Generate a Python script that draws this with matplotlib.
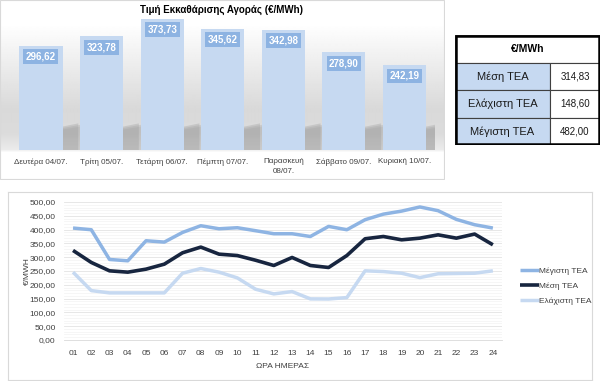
import numpy as np
import matplotlib
matplotlib.use('Agg')
import matplotlib.pyplot as plt
from matplotlib.patches import Rectangle, Polygon
from matplotlib.ticker import MultipleLocator

plt.rcParams['font.family'] = ['Liberation Sans', 'DejaVu Sans']

# --- data -------------------------------------------------------------
days = ['Δευτέρα 04/07.', 'Τρίτη 05/07.', 'Τετάρτη 06/07.', 'Πέμπτη 07/07.',
        'Παρασκευή\n08/07.', 'Σάββατο 09/07.', 'Κυριακή 10/07.']
day_price = [296.62, 323.78, 373.73, 345.62, 342.98, 278.90, 242.19]

table_rows = ['Μέση ΤΕΑ', 'Ελάχιστη ΤΕΑ', 'Μέγιστη ΤΕΑ']
table_vals = ['314,83', '148,60', '482,00']

hours = ['%02d' % h for h in range(1, 25)]
max_tea = [405.6, 399.5, 291.8, 287.0, 359.6, 354.7, 389.8, 414.0, 403.0, 406.8,
           396.0, 385.0, 385.0, 375.0, 411.6, 399.5, 435.8, 456.0, 467.0, 482.0,
           468.5, 437.0, 417.7, 405.6]
mean_tea = [324.5, 281.0, 250.6, 245.8, 256.7, 274.8, 316.0, 336.6, 311.0, 306.0,
            289.0, 270.0, 299.0, 270.0, 262.7, 306.0, 366.8, 375.0, 363.0, 369.0,
            381.0, 369.0, 383.8, 345.0]
min_tea = [245.8, 179.0, 170.7, 170.7, 170.7, 170.7, 242.0, 259.0, 245.8, 225.0,
           184.0, 167.0, 175.5, 149.0, 148.6, 153.7, 250.6, 248.0, 242.0, 226.0,
           240.0, 241.0, 242.0, 250.6]

W, H = 602, 381
fig = plt.figure(figsize=(W / 100, H / 100), dpi=100)
fig.patch.set_facecolor('white')


def box(x0, y0, x1, y1):
    # pixel box (top-left origin) -> figure fraction rect
    return [x0 / W, 1 - y1 / H, (x1 - x0) / W, (y1 - y0) / H]


# --- top bar panel ----------------------------------------------------
bg = fig.add_axes(box(0, 0, 445, 180))
bg.set_axis_off()
yy = np.linspace(0, 180, 181)
shade = np.interp(yy, [0, 25, 110, 135, 150, 153, 180],
                  [1.0, 1.0, 0.85, 0.86, 0.92, 1.0, 1.0])
bg.imshow(np.tile(shade[:, None], (1, 2)), cmap='gray', vmin=0, vmax=1,
          aspect='auto', extent=[0, 1, 1, 0], interpolation='bilinear')
bg.set_xlim(0, 1)
bg.set_ylim(1, 0)
bg.add_patch(Rectangle((0, 0), 0.998, 0.995, fill=False, ec='#d9d9d9', lw=0.8))

ax1 = fig.add_axes(box(10.7, 15, 434.8, 150))
ax1.patch.set_alpha(0)
x = np.arange(len(days))
ax1.set_xlim(-0.5, len(days) - 0.5)
ax1.set_ylim(0, 385)
bw = 0.71
# soft shadows behind the bars
for i, v in enumerate(day_price):
    r = i + bw / 2
    for k, a in enumerate([0.25, 0.2, 0.15]):
        d = k * 0.04
        ax1.add_patch(Polygon([(r - 0.02, 0), (r - 0.02, 66 - k * 4),
                               (r + 0.26 + d, 76 - k * 4), (r + 0.26 + d, 0)],
                              closed=True, fc='#8a8a8a', ec='none', alpha=a, zorder=1))
ax1.bar(x, day_price, width=bw, color='#c6d9f1', zorder=2)
for i, v in enumerate(day_price):
    ax1.text(i, v - 31, ('%.2f' % v).replace('.', ','), ha='center', va='center',
             color='white', fontsize=7, fontweight='bold', zorder=3,
             bbox=dict(boxstyle='square,pad=0.25', fc='#8db3e2', ec='none'))
ax1.set_xticks(x)
ax1.set_xticklabels(days, fontsize=5.8, color='#404040', linespacing=1.45)
ax1.tick_params(axis='x', length=0, pad=6)
ax1.set_yticks([])
for s in ax1.spines.values():
    s.set_visible(False)
fig.text(222 / W, 1 - 10 / H, 'Τιμή Εκκαθάρισης Αγοράς (€/MWh)', ha='center',
         va='center', fontsize=7, fontweight='bold', color='#000000')

# --- table -------------------------------------------------------------
axt = fig.add_axes(box(455, 35, 600, 145))
axt.set_xlim(455, 600)
axt.set_ylim(145, 35)
axt.set_axis_off()
axt.add_patch(Rectangle((455, 35), 145, 28, fc='white', ec='#404040', lw=0.8))
axt.text(527.5, 49, '€/MWh', ha='center', va='center', fontsize=7.5,
         fontweight='bold', color='#000000')
row_top = [63, 90.3, 117.6]
for y0, lab, val in zip(row_top, table_rows, table_vals):
    axt.add_patch(Rectangle((455, y0), 95, 27.3, fc='#c6d9f1', ec='#404040', lw=0.8))
    axt.add_patch(Rectangle((550, y0), 50, 27.3, fc='white', ec='#404040', lw=0.8))
    axt.text(502.5, y0 + 13.7, lab, ha='center', va='center', fontsize=8, color='#1a1a1a')
    axt.text(575, y0 + 13.7, val, ha='center', va='center', fontsize=7, color='#1a1a1a')
axt.add_patch(Rectangle((455.6, 35.6), 143.8, 108.8, fill=False, ec='black', lw=1.8))

# --- line chart ----------------------------------------------------------
frame = fig.add_axes(box(8, 192, 592, 380))
frame.set_xticks([])
frame.set_yticks([])
for s in frame.spines.values():
    s.set_color('#d9d9d9')
    s.set_linewidth(0.8)

ax2 = fig.add_axes(box(63.9, 202, 502, 340))
ax2.patch.set_alpha(0)
ax2.set_xlim(-0.5, 23.5)
ax2.set_ylim(0, 500)
ax2.yaxis.set_major_locator(MultipleLocator(50))
ax2.yaxis.set_minor_locator(MultipleLocator(10))
ax2.grid(axis='y', which='major', color='#e3e3e3', lw=0.6)
ax2.grid(axis='y', which='minor', color='#f3f3f3', lw=0.5)
ax2.set_axisbelow(True)
hx = np.arange(len(hours))
ax2.plot(hx, max_tea, color='#8eb4e3', lw=2.5, label='Μέγιστη ΤΕΑ', solid_capstyle='butt')
ax2.plot(hx, mean_tea, color='#17253f', lw=2.6, label='Μέση ΤΕΑ', solid_capstyle='butt')
ax2.plot(hx, min_tea, color='#c6d9f1', lw=2.5, label='Ελάχιστη ΤΕΑ', solid_capstyle='butt')
ax2.set_xticks(hx)
ax2.set_xticklabels(hours, fontsize=6, color='#404040')
ax2.set_yticks(np.arange(0, 501, 50))
ax2.set_yticklabels([('%.2f' % v).replace('.', ',') for v in np.arange(0, 501, 50)],
                    fontsize=6, color='#404040')
ax2.tick_params(axis='both', which='both', length=0)
ax2.tick_params(axis='x', pad=7)
ax2.tick_params(axis='y', pad=6)
for s in ['top', 'right', 'left']:
    ax2.spines[s].set_visible(False)
ax2.spines['bottom'].set_color('#d9d9d9')
ax2.spines['bottom'].set_linewidth(0.6)
ax2.set_xlabel('ΩΡΑ ΗΜΕΡΑΣ', fontsize=6, color='#404040')
ax2.xaxis.set_label_coords(0.5, -0.17)
ax2.set_ylabel('€/MWH', fontsize=6, color='#404040')
ax2.yaxis.set_label_coords(-0.075, 0.5)
ax2.legend(loc='center left', bbox_to_anchor=(512 / W, 1 - 286 / H),
           bbox_transform=fig.transFigure, frameon=False, fontsize=6,
           handlelength=2.3, handletextpad=0.05, labelspacing=0.9,
           labelcolor='#404040')

fig.savefig('out.png', dpi=100)
